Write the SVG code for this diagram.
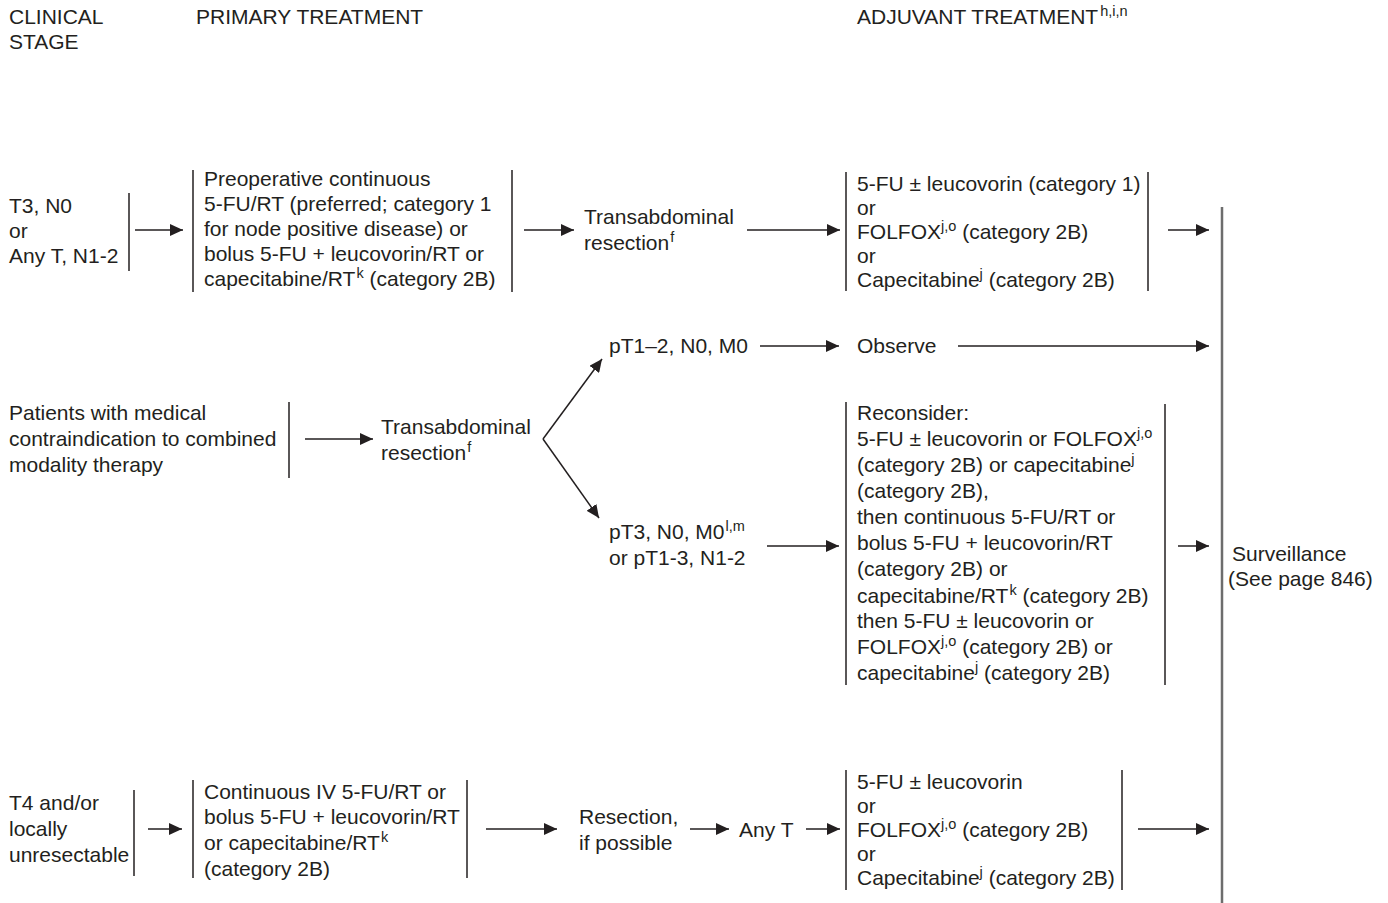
<svg xmlns="http://www.w3.org/2000/svg" width="1388" height="903" viewBox="0 0 1388 903">
<style>
text{font-family:"Liberation Sans",Arial,Helvetica,sans-serif;font-size:21px;fill:#231f20}
.sup{font-size:14.5px}
.bar{stroke:#231f20;stroke-width:1.5;fill:none}
.conn{stroke:#231f20;stroke-width:1.5;fill:none;marker-end:url(#ah)}
.big{stroke:#6d6d6d;stroke-width:2.5;fill:none}
</style>
<defs>
<marker id="ah" markerUnits="userSpaceOnUse" markerWidth="14" markerHeight="12" refX="13" refY="6" orient="auto">
<path d="M0,0 L13,6 L0,12 z" fill="#231f20"/>
</marker>
</defs>
<rect width="1388" height="903" fill="#fff"/>

<g id="headers">
<text x="9" y="24">CLINICAL</text>
<text x="9" y="49">STAGE</text>
<text x="196" y="24">PRIMARY TREATMENT</text>
<text x="857" y="24">ADJUVANT TREATMENT<tspan class="sup" dx="2" dy="-8">h,i,n</tspan></text>
</g>

<g id="n-stage1">
<text x="9" y="213">T3, N0</text>
<text x="9" y="238">or</text>
<text x="9" y="263">Any T, N1-2</text>
<line class="bar" x1="129" y1="193" x2="129" y2="271"/>
</g>

<g id="n-primary1">
<line class="bar" x1="193" y1="170" x2="193" y2="292"/>
<text x="204" y="186">Preoperative continuous</text>
<text x="204" y="211">5-FU/RT (preferred; category 1</text>
<text x="204" y="236">for node positive disease) or</text>
<text x="204" y="261">bolus 5-FU + leucovorin/RT or</text>
<text x="204" y="286">capecitabine/RT<tspan class="sup" dx="1" dy="-8">k</tspan><tspan dy="8"> (category 2B)</tspan></text>
<line class="bar" x1="512" y1="170" x2="512" y2="292"/>
</g>

<g id="n-resect1">
<text x="584" y="224">Transabdominal</text>
<text x="584" y="250">resection<tspan class="sup" dx="1" dy="-8">f</tspan></text>
</g>

<g id="n-adj1">
<line class="bar" x1="846" y1="172" x2="846" y2="291"/>
<text x="857" y="191">5-FU ± leucovorin (category 1)</text>
<text x="857" y="215">or</text>
<text x="857" y="239">FOLFOX<tspan class="sup" dy="-8">j,o</tspan><tspan dy="8"> (category 2B)</tspan></text>
<text x="857" y="263">or</text>
<text x="857" y="287">Capecitabine<tspan class="sup" dy="-8">j</tspan><tspan dy="8"> (category 2B)</tspan></text>
<line class="bar" x1="1148" y1="172" x2="1148" y2="291"/>
</g>

<g id="n-stage2">
<text x="9" y="420">Patients with medical</text>
<text x="9" y="446">contraindication to combined</text>
<text x="9" y="472">modality therapy</text>
<line class="bar" x1="289" y1="402" x2="289" y2="478"/>
</g>

<g id="n-resect2">
<text x="381" y="434">Transabdominal</text>
<text x="381" y="460">resection<tspan class="sup" dx="1" dy="-8">f</tspan></text>
</g>

<g id="n-pt12">
<text x="609" y="353">pT1–2, N0, M0</text>
</g>

<g id="n-observe">
<text x="857" y="353">Observe</text>
</g>

<g id="n-pt3">
<text x="609" y="539">pT3, N0, M0<tspan class="sup" dx="1" dy="-8">l,m</tspan></text>
<text x="609" y="565">or pT1-3, N1-2</text>
</g>

<g id="n-reconsider">
<line class="bar" x1="846" y1="402" x2="846" y2="685"/>
<text x="857" y="420">Reconsider:</text>
<text x="857" y="446">5-FU ± leucovorin or FOLFOX<tspan class="sup" dy="-8">j,o</tspan></text>
<text x="857" y="472">(category 2B) or capecitabine<tspan class="sup" dy="-8">j</tspan></text>
<text x="857" y="498">(category 2B),</text>
<text x="857" y="524">then continuous 5-FU/RT or</text>
<text x="857" y="550">bolus 5-FU + leucovorin/RT</text>
<text x="857" y="576">(category 2B) or</text>
<text x="857" y="603">capecitabine/RT<tspan class="sup" dx="1" dy="-8">k</tspan><tspan dy="8"> (category 2B)</tspan></text>
<text x="857" y="628">then 5-FU ± leucovorin or</text>
<text x="857" y="654">FOLFOX<tspan class="sup" dy="-8">j,o</tspan><tspan dy="8"> (category 2B) or</tspan></text>
<text x="857" y="680">capecitabine<tspan class="sup" dy="-8">j</tspan><tspan dy="8"> (category 2B)</tspan></text>
<line class="bar" x1="1165" y1="404" x2="1165" y2="685"/>
</g>

<g id="n-surveillance">
<line class="big" x1="1222" y1="207" x2="1222" y2="903"/>
<text x="1232" y="561">Surveillance</text>
<text x="1228" y="586">(See page 846)</text>
</g>

<g id="n-stage3">
<text x="9" y="810">T4 and/or</text>
<text x="9" y="836">locally</text>
<text x="9" y="862">unresectable</text>
<line class="bar" x1="134" y1="790" x2="134" y2="876"/>
</g>

<g id="n-primary3">
<line class="bar" x1="193" y1="780" x2="193" y2="878"/>
<text x="204" y="799">Continuous IV 5-FU/RT or</text>
<text x="204" y="824">bolus 5-FU + leucovorin/RT</text>
<text x="204" y="850">or capecitabine/RT<tspan class="sup" dx="1" dy="-8">k</tspan></text>
<text x="204" y="876">(category 2B)</text>
<line class="bar" x1="467" y1="780" x2="467" y2="878"/>
</g>

<g id="n-resect3">
<text x="579" y="824">Resection,</text>
<text x="579" y="850">if possible</text>
</g>

<g id="n-anyt">
<text x="739" y="837">Any T</text>
</g>

<g id="n-adj3">
<line class="bar" x1="846" y1="770" x2="846" y2="890"/>
<text x="857" y="789">5-FU ± leucovorin</text>
<text x="857" y="813">or</text>
<text x="857" y="837">FOLFOX<tspan class="sup" dy="-8">j,o</tspan><tspan dy="8"> (category 2B)</tspan></text>
<text x="857" y="861">or</text>
<text x="857" y="885">Capecitabine<tspan class="sup" dy="-8">j</tspan><tspan dy="8"> (category 2B)</tspan></text>
<line class="bar" x1="1122" y1="770" x2="1122" y2="890"/>
</g>

<g id="connectors">
<line class="conn" x1="135" y1="230" x2="183" y2="230"/>
<line class="conn" x1="524" y1="230" x2="574" y2="230"/>
<line class="conn" x1="747" y1="230" x2="840" y2="230"/>
<line class="conn" x1="1168" y1="230" x2="1209" y2="230"/>
<line class="conn" x1="760" y1="346" x2="839" y2="346"/>
<line class="conn" x1="958" y1="346" x2="1209" y2="346"/>
<line class="conn" x1="305" y1="439" x2="373" y2="439"/>
<line class="conn" x1="543" y1="439" x2="602" y2="359"/>
<line class="conn" x1="543" y1="439" x2="599" y2="518"/>
<line class="conn" x1="767" y1="546" x2="839" y2="546"/>
<line class="conn" x1="1178" y1="546" x2="1209" y2="546"/>
<line class="conn" x1="148" y1="829" x2="182" y2="829"/>
<line class="conn" x1="486" y1="829" x2="557" y2="829"/>
<line class="conn" x1="690" y1="829" x2="729" y2="829"/>
<line class="conn" x1="806" y1="829" x2="840" y2="829"/>
<line class="conn" x1="1138" y1="829" x2="1209" y2="829"/>
</g>
</svg>
